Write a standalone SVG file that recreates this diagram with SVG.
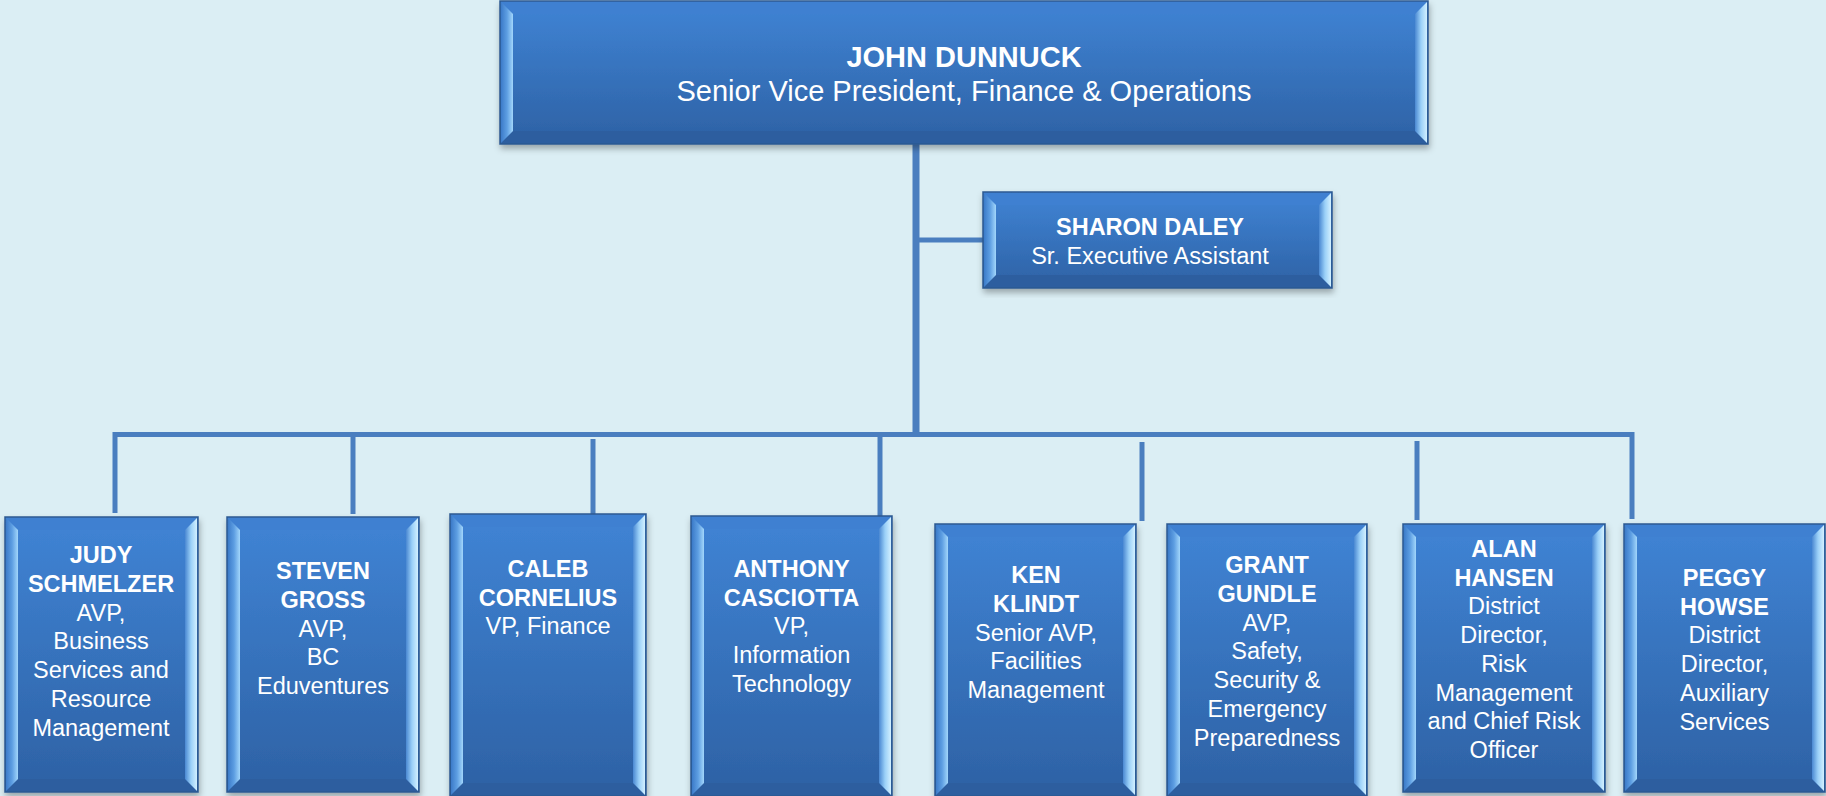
<svg xmlns="http://www.w3.org/2000/svg" width="1826" height="796" viewBox="0 0 1826 796">
<style>
.face{fill:url(#gFace);stroke:#2b5891;stroke-width:1.5}
.bl{fill:url(#gLeft)}
.br{fill:url(#gRight)}
.bt{fill:#3f80d1}
.bb{fill:#2d5e9f}
.ln{stroke:#4a7ebf;fill:none}
text{font-family:"Liberation Sans",Arial,sans-serif;fill:#ffffff;text-anchor:middle}
.b{font-weight:bold}
.big{font-size:29px}
.mid{font-size:23.5px}
</style>
<defs>
<linearGradient id="gFace" x1="0" y1="0" x2="0" y2="1">
<stop offset="0" stop-color="#4084d5"/>
<stop offset="1" stop-color="#2d61a4"/>
</linearGradient>
<linearGradient id="gLeft" x1="0" y1="0" x2="1" y2="0">
<stop offset="0" stop-color="#3c7bc9"/>
<stop offset="0.5" stop-color="#5d9ee2"/>
<stop offset="1" stop-color="#a2d6fb"/>
</linearGradient>
<linearGradient id="gRight" x1="0" y1="0" x2="1" y2="0">
<stop offset="0" stop-color="#4a88d2"/>
<stop offset="0.5" stop-color="#9ad0f8"/>
<stop offset="1" stop-color="#d2f0ff"/>
</linearGradient>
<filter id="sh" x="-5%" y="-5%" width="110%" height="115%">
<feDropShadow dx="1" dy="4" stdDeviation="3" flood-color="#000" flood-opacity="0.3"/>
</filter>
</defs>
<rect x="0" y="0" width="1826" height="796" fill="#dbeef4"/>

<g id="connectors">
<line class="ln" x1="916" y1="144" x2="916" y2="437" stroke-width="7"/>
<line class="ln" x1="916" y1="240" x2="984" y2="240" stroke-width="5"/>
<polyline class="ln" points="115,513 115,434.5 1632,434.5 1632,519" stroke-width="5"/>
<line class="ln" x1="353" y1="434" x2="353" y2="514" stroke-width="5"/>
<line class="ln" x1="593" y1="439" x2="593" y2="518" stroke-width="5"/>
<line class="ln" x1="880" y1="437" x2="880" y2="517" stroke-width="5"/>
<line class="ln" x1="1142" y1="442" x2="1142" y2="521" stroke-width="5"/>
<line class="ln" x1="1417" y1="441" x2="1417" y2="520" stroke-width="5"/>
</g>

<g id="node-dunnuck">
<rect class="face" x="500" y="1" width="928" height="143" filter="url(#sh)"/>
<polygon class="bt" points="501,2 1427,2 1415,14 513,14"/>
<polygon class="bb" points="501,143 513,131 1415,131 1427,143"/>
<polygon class="bl" points="501,2 513,14 513,131 501,143"/>
<polygon class="br" points="1415,14 1427,2 1427,143 1415,131"/>
<text class="big" x="964"><tspan class="b" x="964" y="67">JOHN DUNNUCK</tspan><tspan x="964" y="101">Senior Vice President, Finance &amp; Operations</tspan></text>
</g>

<g id="node-daley">
<rect class="face" x="983" y="192" width="349" height="96" filter="url(#sh)"/>
<polygon class="bt" points="984,193 1331,193 1319,205 996,205"/>
<polygon class="bb" points="984,287 996,275 1319,275 1331,287"/>
<polygon class="bl" points="984,193 996,205 996,275 984,287"/>
<polygon class="br" points="1319,205 1331,193 1331,287 1319,275"/>
<text class="mid"><tspan class="b" x="1150" y="235">SHARON DALEY</tspan><tspan x="1150" y="264">Sr. Executive Assistant</tspan></text>
</g>

<g id="node-schmelzer">
<rect class="face" x="5" y="517" width="193" height="275" filter="url(#sh)"/>
<polygon class="bt" points="6,518 197,518 185,530 18,530"/>
<polygon class="bb" points="6,791 18,779 185,779 197,791"/>
<polygon class="bl" points="6,518 18,530 18,779 6,791"/>
<polygon class="br" points="185,530 197,518 197,791 185,779"/>
<text class="mid"><tspan class="b" x="101" y="563">JUDY</tspan><tspan class="b" x="101" dy="28.8">SCHMELZER</tspan><tspan x="101" dy="28.8">AVP,</tspan><tspan x="101" dy="28.8">Business</tspan><tspan x="101" dy="28.8">Services and</tspan><tspan x="101" dy="28.8">Resource</tspan><tspan x="101" dy="28.8">Management</tspan></text>
</g>

<g id="node-gross">
<rect class="face" x="227" y="517" width="192" height="275" filter="url(#sh)"/>
<polygon class="bt" points="228,518 418,518 406,530 240,530"/>
<polygon class="bb" points="228,791 240,779 406,779 418,791"/>
<polygon class="bl" points="228,518 240,530 240,779 228,791"/>
<polygon class="br" points="406,530 418,518 418,791 406,779"/>
<text class="mid"><tspan class="b" x="323" y="579">STEVEN</tspan><tspan class="b" x="323" dy="28.8">GROSS</tspan><tspan x="323" dy="28.8">AVP,</tspan><tspan x="323" dy="28.8">BC</tspan><tspan x="323" dy="28.8">Eduventures</tspan></text>
</g>

<g id="node-cornelius">
<rect class="face" x="450" y="514" width="196" height="282" filter="url(#sh)"/>
<polygon class="bt" points="451,515 645,515 633,527 463,527"/>
<polygon class="bb" points="451,795 463,783 633,783 645,795"/>
<polygon class="bl" points="451,515 463,527 463,783 451,795"/>
<polygon class="br" points="633,527 645,515 645,795 633,783"/>
<text class="mid"><tspan class="b" x="548" y="577">CALEB</tspan><tspan class="b" x="548" dy="28.5">CORNELIUS</tspan><tspan x="548" dy="28.5">VP, Finance</tspan></text>
</g>

<g id="node-casciotta">
<rect class="face" x="691" y="516" width="201" height="280" filter="url(#sh)"/>
<polygon class="bt" points="692,517 891,517 879,529 704,529"/>
<polygon class="bb" points="692,795 704,783 879,783 891,795"/>
<polygon class="bl" points="692,517 704,529 704,783 692,795"/>
<polygon class="br" points="879,529 891,517 891,795 879,783"/>
<text class="mid"><tspan class="b" x="791.5" y="577">ANTHONY</tspan><tspan class="b" x="791.5" dy="28.5">CASCIOTTA</tspan><tspan x="791.5" dy="28.5">VP,</tspan><tspan x="791.5" dy="29.2">Information</tspan><tspan x="791.5" dy="29">Technology</tspan></text>
</g>

<g id="node-klindt">
<rect class="face" x="935" y="524" width="201" height="272" filter="url(#sh)"/>
<polygon class="bt" points="936,525 1135,525 1123,537 948,537"/>
<polygon class="bb" points="936,795 948,783 1123,783 1135,795"/>
<polygon class="bl" points="936,525 948,537 948,783 936,795"/>
<polygon class="br" points="1123,537 1135,525 1135,795 1123,783"/>
<text class="mid"><tspan class="b" x="1036" y="583">KEN</tspan><tspan class="b" x="1036" dy="28.8">KLINDT</tspan><tspan x="1036" dy="28.8">Senior AVP,</tspan><tspan x="1036" dy="28.8">Facilities</tspan><tspan x="1036" dy="28.8">Management</tspan></text>
</g>

<g id="node-gundle">
<rect class="face" x="1167" y="524" width="200" height="272" filter="url(#sh)"/>
<polygon class="bt" points="1168,525 1366,525 1354,537 1180,537"/>
<polygon class="bb" points="1168,795 1180,783 1354,783 1366,795"/>
<polygon class="bl" points="1168,525 1180,537 1180,783 1168,795"/>
<polygon class="br" points="1354,537 1366,525 1366,795 1354,783"/>
<text class="mid"><tspan class="b" x="1267" y="573">GRANT</tspan><tspan class="b" x="1267" dy="28.8">GUNDLE</tspan><tspan x="1267" dy="28.8">AVP,</tspan><tspan x="1267" dy="28.8">Safety,</tspan><tspan x="1267" dy="28.8">Security &amp;</tspan><tspan x="1267" dy="28.8">Emergency</tspan><tspan x="1267" dy="28.8">Preparedness</tspan></text>
</g>

<g id="node-hansen">
<rect class="face" x="1403" y="524" width="202" height="268" filter="url(#sh)"/>
<polygon class="bt" points="1404,525 1604,525 1592,537 1416,537"/>
<polygon class="bb" points="1404,791 1416,779 1592,779 1604,791"/>
<polygon class="bl" points="1404,525 1416,537 1416,779 1404,791"/>
<polygon class="br" points="1592,537 1604,525 1604,791 1592,779"/>
<text class="mid"><tspan class="b" x="1504" y="557">ALAN</tspan><tspan class="b" x="1504" dy="28.7">HANSEN</tspan><tspan x="1504" dy="28.7">District</tspan><tspan x="1504" dy="28.7">Director,</tspan><tspan x="1504" dy="28.7">Risk</tspan><tspan x="1504" dy="28.7">Management</tspan><tspan x="1504" dy="28.7">and Chief Risk</tspan><tspan x="1504" dy="28.7">Officer</tspan></text>
</g>

<g id="node-howse">
<rect class="face" x="1624" y="524" width="201" height="268" filter="url(#sh)"/>
<polygon class="bt" points="1625,525 1824,525 1812,537 1637,537"/>
<polygon class="bb" points="1625,791 1637,779 1812,779 1824,791"/>
<polygon class="bl" points="1625,525 1637,537 1637,779 1625,791"/>
<polygon class="br" points="1812,537 1824,525 1824,791 1812,779"/>
<text class="mid"><tspan class="b" x="1724.5" y="586">PEGGY</tspan><tspan class="b" x="1724.5" dy="28.7">HOWSE</tspan><tspan x="1724.5" dy="28.7">District</tspan><tspan x="1724.5" dy="28.7">Director,</tspan><tspan x="1724.5" dy="28.7">Auxiliary</tspan><tspan x="1724.5" dy="28.7">Services</tspan></text>
</g>
</svg>
